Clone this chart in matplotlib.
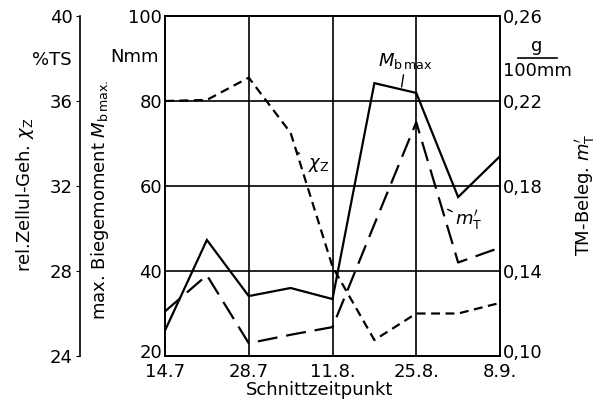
import matplotlib
matplotlib.use('Agg')
from matplotlib import pyplot as plt
from matplotlib import transforms

plt.rcParams['font.family'] = ['DejaVu Sans']
plt.rcParams['mathtext.fontset'] = 'dejavusans'

# weekly cutting dates, labelled every two weeks
x_idx = [0, 1, 2, 3, 4, 5, 6, 7, 8]
tick_pos = [0, 2, 4, 6, 8]
tick_labels = ['14.7', '28.7', '11.8.', '25.8.', '8.9.']

# max. bending moment Mb max (Nmm), left inner axis
mb_max = [26.0, 47.3, 34.1, 36.0, 33.4, 84.2, 81.9, 57.4, 67.0]
# dry matter coverage m'T (g/100mm), right axis
m_t = [0.121, 0.138, 0.106, 0.110, 0.1136, 0.162, 0.210, 0.144, 0.151]
# rel. cellulose content chi_Z (%TS), left outer axis
chi_z = [36.0, 36.05, 37.1, 34.5, 28.2, 24.75, 26.0, 26.0, 26.5]

W, H = 605, 404
fig = plt.figure(figsize=(W / 100, H / 100), dpi=100)

def fx(px):
    return px / W

def fy(py):
    return 1 - py / H

ax = fig.add_axes([fx(165), fy(356), fx(500) - fx(165), fy(16) - fy(356)])
ax_r = ax.twinx()
ax_o = ax.twinx()

lw = 1.6
ax.plot(x_idx, mb_max, color='black', lw=lw, solid_joinstyle='miter')
ax_r.plot(x_idx, m_t, color='black', lw=lw, dashes=(9, 4))
ax_o.plot(x_idx, chi_z, color='black', lw=lw, dashes=(4, 2.5))

ax.set_xlim(0, 8)
ax.set_ylim(20, 100)
ax_r.set_ylim(0.10, 0.26)
ax_o.set_ylim(24, 40)

ax.set_xticks(tick_pos)
ax.set_xticklabels(tick_labels, fontsize=13)
ax.set_yticks([20, 40, 60, 80, 100])
ax.set_yticklabels(['20', '40', '60', '80', '100'], fontsize=13)
ax.tick_params(axis='y', length=0, pad=2)
ax.tick_params(axis='x', length=0, pad=5)

ax.grid(False)
for v in [40, 60, 80]:
    ax.axhline(v, color='black', lw=1.2, zorder=1)
for v in [2, 4, 6]:
    ax.axvline(v, color='black', lw=1.2, zorder=1)

ax_r.set_yticks([0.10, 0.14, 0.18, 0.22, 0.26])
ax_r.set_yticklabels(['0,10', '0,14', '0,18', '0,22', '0,26'], fontsize=13)
ax_r.tick_params(axis='y', length=0, pad=2)

# lift the bottom y labels a little so they clear the date labels
lift = transforms.ScaledTranslation(0, 5 / 100, fig.dpi_scale_trans)
for lab in (ax.get_yticklabels()[0], ax_r.get_yticklabels()[0]):
    lab.set_transform(lab.get_transform() + lift)

ax_o.spines['right'].set_visible(False)
ax_o.spines['left'].set_visible(True)
ax_o.spines['left'].set_position(('axes', -0.254))
ax_o.yaxis.set_ticks_position('left')
ax_o.yaxis.set_label_position('left')
ax_o.set_yticks([24, 28, 32, 36, 40])
ax_o.set_yticklabels(['24', '28', '32', '36', '40'], fontsize=13)
ax_o.tick_params(axis='y', length=3, direction='out', pad=2)

for a in (ax, ax_r, ax_o):
    for s in a.spines.values():
        s.set_linewidth(1.2)

# units and axis titles
fig.text(fx(52), fy(60), '%TS', fontsize=13, ha='center', va='center')
fig.text(fx(135), fy(57), 'Nmm', fontsize=13, ha='center', va='center')
fig.text(fx(25), fy(195), r'rel.Zellul-Geh. $\chi_{\rm Z}$', fontsize=13,
         rotation=90, ha='center', va='center')
fig.text(fx(100), fy(200), r'max. Biegemoment $M_{\rm b\,max.}$', fontsize=13,
         rotation=90, ha='center', va='center')
fig.text(fx(537), fy(46), 'g', fontsize=13, ha='center', va='center')
fig.add_artist(plt.Line2D([fx(518), fx(557)], [fy(58), fy(58)],
                          color='black', lw=1.2))
fig.text(fx(537), fy(71), '100mm', fontsize=13, ha='center', va='center')
fig.text(fx(585), fy(195), r"TM-Beleg. $m^{\prime}_{\rm T}$", fontsize=13,
         rotation=90, ha='center', va='center')
fig.text(fx(320), fy(390), 'Schnittzeitpunkt', fontsize=13,
         ha='center', va='center')

# curve labels with short leader lines
ax.annotate(r'$M_{\rm b\,max}$', xy=(5.65, 83.3), xytext=(5.75, 89.5),
            fontsize=13, ha='center', va='center',
            arrowprops=dict(arrowstyle='-', color='black', lw=1.0,
                            shrinkA=1, shrinkB=0))
ax_o.annotate(r'$\chi_{\rm Z}$', xy=(3.15, 33.6), xytext=(3.68, 33.0),
              fontsize=13, ha='center', va='center',
              arrowprops=dict(arrowstyle='-', color='black', lw=1.0,
                              shrinkA=5, shrinkB=0))
ax_r.annotate(r"$m^{\prime}_{\rm T}$", xy=(6.75, 0.169), xytext=(7.25, 0.164),
              fontsize=13, ha='center', va='center',
              arrowprops=dict(arrowstyle='-', color='black', lw=1.0,
                              shrinkA=6, shrinkB=0))

fig.savefig('out.png', dpi=100, facecolor='white')
